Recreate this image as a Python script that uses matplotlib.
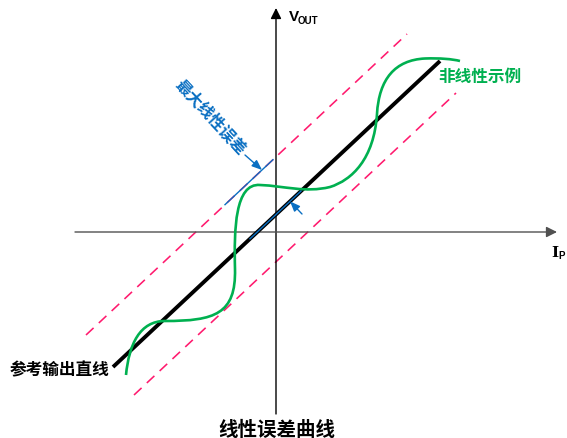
import numpy as np
import matplotlib.pyplot as plt
from matplotlib.path import Path
from matplotlib.patches import PathPatch

plt.rcParams['font.family'] = ['Noto Sans CJK SC', 'DejaVu Sans']

# chart units: origin where the two axes cross, y up
ref_line_x = [-163, 164]
ref_line_y = [-135, 171]

upper_limit_x = [-190, 131]
upper_limit_y = [-103, 198]
lower_limit_x = [-142, 180]
lower_limit_y = [-163, 139]

# non-linear output: cubic bezier anchors + control points
curve_pts = [
    (-150, -143),
    (-147, -112), (-136, -89), (-111, -89),
    (-61, -89), (-40, -82), (-41, -37),
    (-42, 3), (-41, 49), (-16, 47),
    (9, 46), (29, 39), (54, 45),
    (76, 52), (98, 73), (101, 118),
    (103, 153), (119, 172), (149, 173.5),
    (164, 174), (176, 173), (184, 171),
]

# max error marker: x-ranges of the blue overlays
err_upper_x = [-51, -3]
err_ref_x = [-26, 25]

labels = {
    'curve': '非线性示例',
    'ref': '参考输出直线',
    'err': '最大线性误差',
    'title': '线性误差曲线',
}

green = '#00b050'
pink = '#ff1a6e'
blue = '#0a6fc2'

fig = plt.figure(figsize=(5.67, 4.39), dpi=100)
ax = fig.add_axes([0, 0, 1, 1])
ax.set_xlim(-276, 291)
ax.set_ylim(-206, 233)
ax.axis('off')

# axes with arrows
ax.annotate('', xy=(0, 224), xytext=(0, -182),
            arrowprops=dict(arrowstyle='-|>,head_length=0.4,head_width=0.2',
                            lw=1.0, color='black', mutation_scale=16,
                            shrinkA=0, shrinkB=0))
ax.annotate('', xy=(281, 0), xytext=(-201, 0),
            arrowprops=dict(arrowstyle='-|>,head_length=0.4,head_width=0.2',
                            lw=1.0, color='#505050', mutation_scale=16,
                            shrinkA=0, shrinkB=0))

ax.text(13, 216, 'V', fontsize=11, fontweight='bold', family='Liberation Sans',
        ha='left', va='center')
ax.text(22, 212, 'OUT', fontsize=7, fontweight='bold', family='Liberation Sans',
        ha='left', va='center')
ax.text(275, -20, 'I', fontsize=11, fontweight='bold', family='DejaVu Serif',
        ha='left', va='center')
ax.text(282, -23, 'P', fontsize=7, fontweight='bold', family='Liberation Sans',
        ha='left', va='center')

# limit lines
ax.plot(upper_limit_x, upper_limit_y, color=pink, lw=1.15, ls=(0, (6.5, 4.5)), zorder=2)
ax.plot(lower_limit_x, lower_limit_y, color=pink, lw=1.15, ls=(0, (6.5, 4.5)), zorder=2)

# reference straight line
ax.plot(ref_line_x, ref_line_y, color='black', lw=2.8, solid_capstyle='butt', zorder=3)

# non-linear curve
codes = [Path.MOVETO] + [Path.CURVE4] * (len(curve_pts) - 1)
ax.add_patch(PathPatch(Path(curve_pts, codes), fill=False, edgecolor=green,
                       lw=1.9, zorder=4))

# max error marker
ey_up = np.interp(err_upper_x, upper_limit_x, upper_limit_y)
ey_ref = np.interp(err_ref_x, ref_line_x, ref_line_y)
ax.plot(err_upper_x, ey_up, color=blue, lw=1.0, zorder=5)
ax.plot(err_ref_x, ey_ref, color=blue, lw=1.0, zorder=5)

ax.annotate('', xy=(-14, np.interp(-14, upper_limit_x, upper_limit_y)), xytext=(-31, 77),
            arrowprops=dict(arrowstyle='-|>,head_length=0.5,head_width=0.2',
                            lw=1.0, color=blue, mutation_scale=12,
                            shrinkA=0, shrinkB=0), zorder=5)
ax.annotate('', xy=(14, np.interp(14, ref_line_x, ref_line_y)), xytext=(26, 18),
            arrowprops=dict(arrowstyle='-|>,head_length=0.5,head_width=0.2',
                            lw=1.0, color=blue, mutation_scale=12,
                            shrinkA=0, shrinkB=0), zorder=5)

ax.text(-66, 116, labels['err'], color=blue, fontsize=11.5, fontweight='bold',
        rotation=-47, rotation_mode='anchor', ha='center', va='center')

ax.text(162, 156, labels['curve'], color=green, fontsize=12, fontweight='bold',
        ha='left', va='center')
ax.text(-266, -137, labels['ref'], color='black', fontsize=12, fontweight='bold',
        ha='left', va='center')
ax.text(1, -197, labels['title'], color='black', fontsize=14, fontweight='bold',
        ha='center', va='center')

fig.savefig('out.png', dpi=100)
